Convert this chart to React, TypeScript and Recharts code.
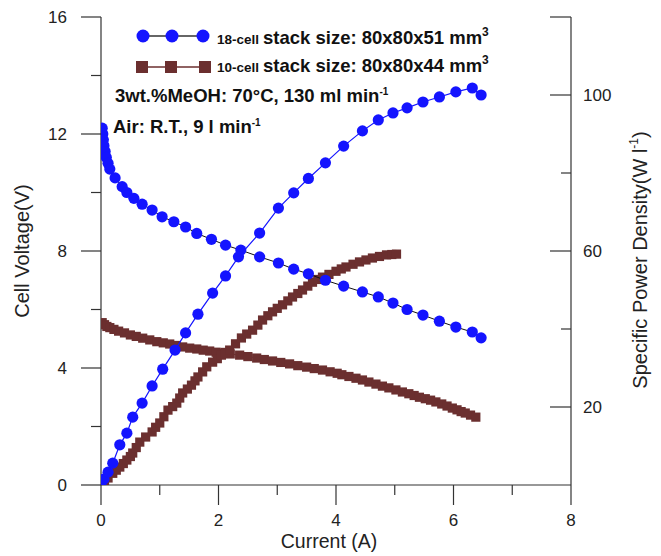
import React from 'react';
import { ComposedChart, Scatter, XAxis, YAxis, Legend } from 'recharts';

const BLUE = '#1414ff';
const BROWN = '#6b2f2f';
const AXIS = '#333';
const FONT = '"Liberation Sans", Arial, Helvetica, sans-serif';

// axis ticks
const xTicks = [0, 1, 2, 3, 4, 5, 6, 7, 8];
const xLabels = [0, 2, 4, 6, 8];
const voltTicks = [0, 2, 4, 6, 8, 10, 12, 14, 16];
const voltLabels = [0, 4, 8, 12, 16];
const powerTicks = [0, 20, 40, 60, 80, 100, 120];
const powerLabels = [20, 60, 100];

// 18-cell stack
const cell18VoltI = [0.02, 0.03, 0.04, 0.05, 0.07, 0.09, 0.12, 0.15, 0.24, 0.36, 0.44, 0.56, 0.7, 0.87, 1.04, 1.24, 1.44, 1.63, 1.88, 2.12, 2.38, 2.7, 3.02, 3.28, 3.53, 3.82, 4.13, 4.45, 4.72, 4.97, 5.21, 5.48, 5.76, 6.04, 6.32, 6.47];
const cell18Volt = [12.2, 12.0, 11.8, 11.6, 11.4, 11.2, 11.0, 10.8, 10.5, 10.2, 10.0, 9.8, 9.6, 9.4, 9.17, 9.0, 8.82, 8.6, 8.4, 8.2, 8.03, 7.8, 7.59, 7.38, 7.22, 7.0, 6.8, 6.6, 6.43, 6.22, 6.0, 5.81, 5.6, 5.4, 5.23, 5.03];
const cell18PowerI = [0.0, 0.05, 0.12, 0.2, 0.32, 0.44, 0.54, 0.7, 0.87, 1.05, 1.26, 1.44, 1.65, 1.9, 2.12, 2.34, 2.7, 3.02, 3.28, 3.53, 3.82, 4.13, 4.45, 4.72, 4.97, 5.21, 5.48, 5.76, 6.04, 6.32, 6.47];
const cell18Power = [0, 1.5, 3.3, 5.6, 10.3, 13.3, 17.4, 21, 25.4, 29.7, 34.6, 39, 43.8, 49.2, 53.6, 58.5, 64.6, 71, 74.9, 78.6, 82.6, 86.9, 90.8, 93.6, 95.4, 96.7, 98.2, 99.5, 100.8, 101.8, 100];

// 10-cell stack
const cell10VoltI = [0.02, 0.06, 0.1, 0.15, 0.22, 0.3, 0.4, 0.5, 0.6, 0.71, 0.83, 0.95, 1.06, 1.17, 1.28, 1.39, 1.51, 1.63, 1.74, 1.85, 1.96, 2.07, 2.2, 2.36, 2.5, 2.65, 2.78, 2.92, 3.06, 3.21, 3.35, 3.5, 3.63, 3.77, 3.9, 4.02, 4.1, 4.22, 4.34, 4.45, 4.56, 4.68, 4.79, 4.9, 5.02, 5.13, 5.24, 5.33, 5.42, 5.52, 5.61, 5.7, 5.8, 5.89, 5.98, 6.06, 6.13, 6.2, 6.29, 6.38];
const cell10Volt = [5.55, 5.48, 5.42, 5.38, 5.32, 5.26, 5.2, 5.13, 5.08, 5.02, 4.96, 4.9, 4.86, 4.82, 4.77, 4.72, 4.68, 4.65, 4.61, 4.58, 4.54, 4.51, 4.48, 4.44, 4.39, 4.34, 4.29, 4.24, 4.19, 4.14, 4.08, 4.03, 3.98, 3.93, 3.87, 3.82, 3.77, 3.71, 3.65, 3.59, 3.52, 3.45, 3.38, 3.32, 3.25, 3.18, 3.12, 3.06, 3.0, 2.95, 2.9, 2.84, 2.77, 2.7, 2.63, 2.57, 2.51, 2.46, 2.39, 2.32];
const cell10PowerI = [0.0, 0.06, 0.12, 0.2, 0.26, 0.32, 0.38, 0.44, 0.5, 0.54, 0.6, 0.66, 0.76, 0.87, 0.93, 1.0, 1.07, 1.14, 1.22, 1.29, 1.34, 1.39, 1.47, 1.54, 1.6, 1.65, 1.73, 1.8, 1.9, 1.98, 2.05, 2.12, 2.19, 2.29, 2.39, 2.48, 2.58, 2.67, 2.75, 2.84, 2.92, 3.0, 3.09, 3.18, 3.26, 3.35, 3.43, 3.52, 3.6, 3.69, 3.77, 3.88, 4.0, 4.09, 4.17, 4.29, 4.4, 4.51, 4.62, 4.74, 4.86, 4.95, 5.03];
const cell10Power = [0, 1, 1.8, 3, 3.8, 4.6, 5.5, 6.4, 7.3, 8.2, 9.6, 11, 12.3, 13.6, 14.8, 15.9, 17.5, 19.2, 20.1, 21, 22.3, 23.6, 24.6, 25.6, 26.7, 27.7, 29, 30.3, 31.5, 32.4, 33.3, 34, 34.6, 36.2, 37.7, 38.7, 39.7, 41, 42.3, 43.4, 44.4, 45.3, 46.2, 47.2, 48.2, 49.1, 50, 51, 52, 52.7, 53.3, 54, 54.8, 55.4, 55.9, 56.6, 57.2, 57.7, 58.2, 58.6, 59, 59.1, 59.2];

const zip = (xs: number[], ys: number[]) => xs.map((x, i) => ({ x, y: ys[i] }));

const circle = (fill: string) => (p: any) => <circle cx={p.cx} cy={p.cy} r={5.6} fill={fill} />;
const square = (fill: string) => (p: any) => <rect x={p.cx - 4.6} y={p.cy - 4.6} width={9.2} height={9.2} fill={fill} />;

const XTick = (props: any) => {
  const { x, y, payload } = props;
  const major = xLabels.includes(payload.value);
  return (
    <g>
      <line x1={x} x2={x} y1={y} y2={y + (major ? 20 : 10)} stroke={AXIS} strokeWidth={1.2} />
      {major && (
        <text x={x} y={y + 41} textAnchor="middle" fontSize={17} fontFamily={FONT} fill="#222">
          {payload.value}
        </text>
      )}
    </g>
  );
};

const VoltTick = (props: any) => {
  const { x, y, payload } = props;
  const major = voltLabels.includes(payload.value);
  return (
    <g>
      <line x1={x - (major ? 20 : 10)} x2={x} y1={y} y2={y} stroke={AXIS} strokeWidth={1.2} />
      {major && (
        <text x={x - 34} y={y + 6} textAnchor="end" fontSize={17} fontFamily={FONT} fill="#222">
          {payload.value}
        </text>
      )}
    </g>
  );
};

const PowerTick = (props: any) => {
  const { x, y, payload } = props;
  if (payload.value === 0) return <g />;
  const major = payload.value % 40 === 20 || payload.value === 120;
  return (
    <g>
      <line x1={x - (major ? 21 : 10)} x2={x} y1={y} y2={y} stroke={AXIS} strokeWidth={1.2} />
      {powerLabels.includes(payload.value) && (
        <text x={x + 12} y={y + 6} textAnchor="start" fontSize={17} fontFamily={FONT} fill="#222">
          {payload.value}
        </text>
      )}
    </g>
  );
};

const LegendBox = () => (
  <svg width={645} height={140} style={{ display: 'block' }}>
    <g fontFamily={FONT} fontWeight="bold" fill="#111">
      <line x1={135} x2={195} y1={28} y2={28} stroke="#333" strokeWidth={1.5} />
      {[135, 164, 195].map((cx) => <circle key={cx} cx={cx} cy={28} r={6.5} fill={BLUE} />)}
      <text x={209} y={36}>
        <tspan fontSize={13.5}>18-cell</tspan>
        <tspan fontSize={18.5} dx={4}>stack size: 80x80x51 mm</tspan>
        <tspan fontSize={12} dy={-8}>3</tspan>
      </text>
      <line x1={134} x2={197} y1={59} y2={59} stroke={BROWN} strokeWidth={1.5} />
      {[134, 163, 197].map((cx) => <rect key={cx} x={cx - 6} y={53} width={12} height={12} fill={BROWN} />)}
      <text x={209} y={64}>
        <tspan fontSize={13.5}>10-cell</tspan>
        <tspan fontSize={18.5} dx={4}>stack size: 80x80x44 mm</tspan>
        <tspan fontSize={12} dy={-8}>3</tspan>
      </text>
      <text x={107} y={94} fontSize={18.5}>
        3wt.%MeOH: 70°C, 130 ml min<tspan fontSize={10} dy={-7}>-1</tspan>
      </text>
      <text x={105} y={125} fontSize={18.5}>
        Air: R.T., 9 l min<tspan fontSize={10} dy={-7}>-1</tspan>
      </text>
    </g>
  </svg>
);

export default function App() {
  return (
    <div style={{ width: 645, height: 548, overflow: 'hidden' }}>
      <ComposedChart width={645} height={548} margin={{ top: 9, right: 0, bottom: 0, left: 0 }}>
        <XAxis
          type="number"
          dataKey="x"
          domain={[0, 8]}
          ticks={xTicks}
          interval={0}
          height={71}
          tickSize={0}
          tickMargin={0}
          tick={XTick}
          axisLine={{ stroke: AXIS, strokeWidth: 1.2 }}
          allowDataOverflow
          label={{
            content: () => (
              <text x={321} y={540} textAnchor="middle" fontSize={19.5} fontFamily={FONT} fill="#222">
                Current (A)
              </text>
            ),
          }}
        />
        <YAxis
          yAxisId="v"
          orientation="left"
          type="number"
          dataKey="y"
          domain={[0, 16]}
          ticks={voltTicks}
          interval={0}
          width={93}
          tickSize={0}
          tickMargin={0}
          tick={VoltTick}
          axisLine={{ stroke: AXIS, strokeWidth: 1.2 }}
          allowDataOverflow
          label={{
            content: () => (
              <text x={21} y={243} transform="rotate(-90 21 243)" textAnchor="middle" fontSize={20} fontFamily={FONT} fill="#222">
                Cell Voltage(V)
              </text>
            ),
          }}
        />
        <YAxis
          yAxisId="p"
          orientation="right"
          type="number"
          dataKey="y"
          domain={[0, 120]}
          ticks={powerTicks}
          interval={0}
          width={82}
          tickSize={0}
          tickMargin={0}
          tick={PowerTick}
          axisLine={{ stroke: AXIS, strokeWidth: 1.2 }}
          allowDataOverflow
          label={{
            content: () => (
              <text x={639} y={252} transform="rotate(-90 639 252)" textAnchor="middle" fontSize={20} fontFamily={FONT} fill="#222">
                Specific Power Density(W l<tspan fontSize={12} dy={-9}>-1</tspan>
                <tspan dy={9}>)</tspan>
              </text>
            ),
          }}
        />
        <Legend
          layout="horizontal"
          verticalAlign="middle"
          align="center"
          wrapperStyle={{ top: 0, left: 0, width: 645, height: 140 }}
          content={LegendBox}
        />
        <Scatter
          name="10-cell voltage"
          yAxisId="v"
          data={zip(cell10VoltI, cell10Volt)}
          line={{ stroke: BROWN, strokeWidth: 1 }}
          lineType="joint"
          shape={square(BROWN)}
          isAnimationActive={false}
        />
        <Scatter
          name="10-cell power"
          yAxisId="p"
          data={zip(cell10PowerI, cell10Power)}
          line={{ stroke: BROWN, strokeWidth: 1 }}
          lineType="joint"
          shape={square(BROWN)}
          isAnimationActive={false}
        />
        <Scatter
          name="18-cell voltage"
          yAxisId="v"
          data={zip(cell18VoltI, cell18Volt)}
          line={{ stroke: '#111', strokeWidth: 1 }}
          lineType="joint"
          shape={circle(BLUE)}
          isAnimationActive={false}
        />
        <Scatter
          name="18-cell power"
          yAxisId="p"
          data={zip(cell18PowerI, cell18Power)}
          line={{ stroke: BLUE, strokeWidth: 1.2 }}
          lineType="joint"
          shape={circle(BLUE)}
          isAnimationActive={false}
        />
      </ComposedChart>
    </div>
  );
}
